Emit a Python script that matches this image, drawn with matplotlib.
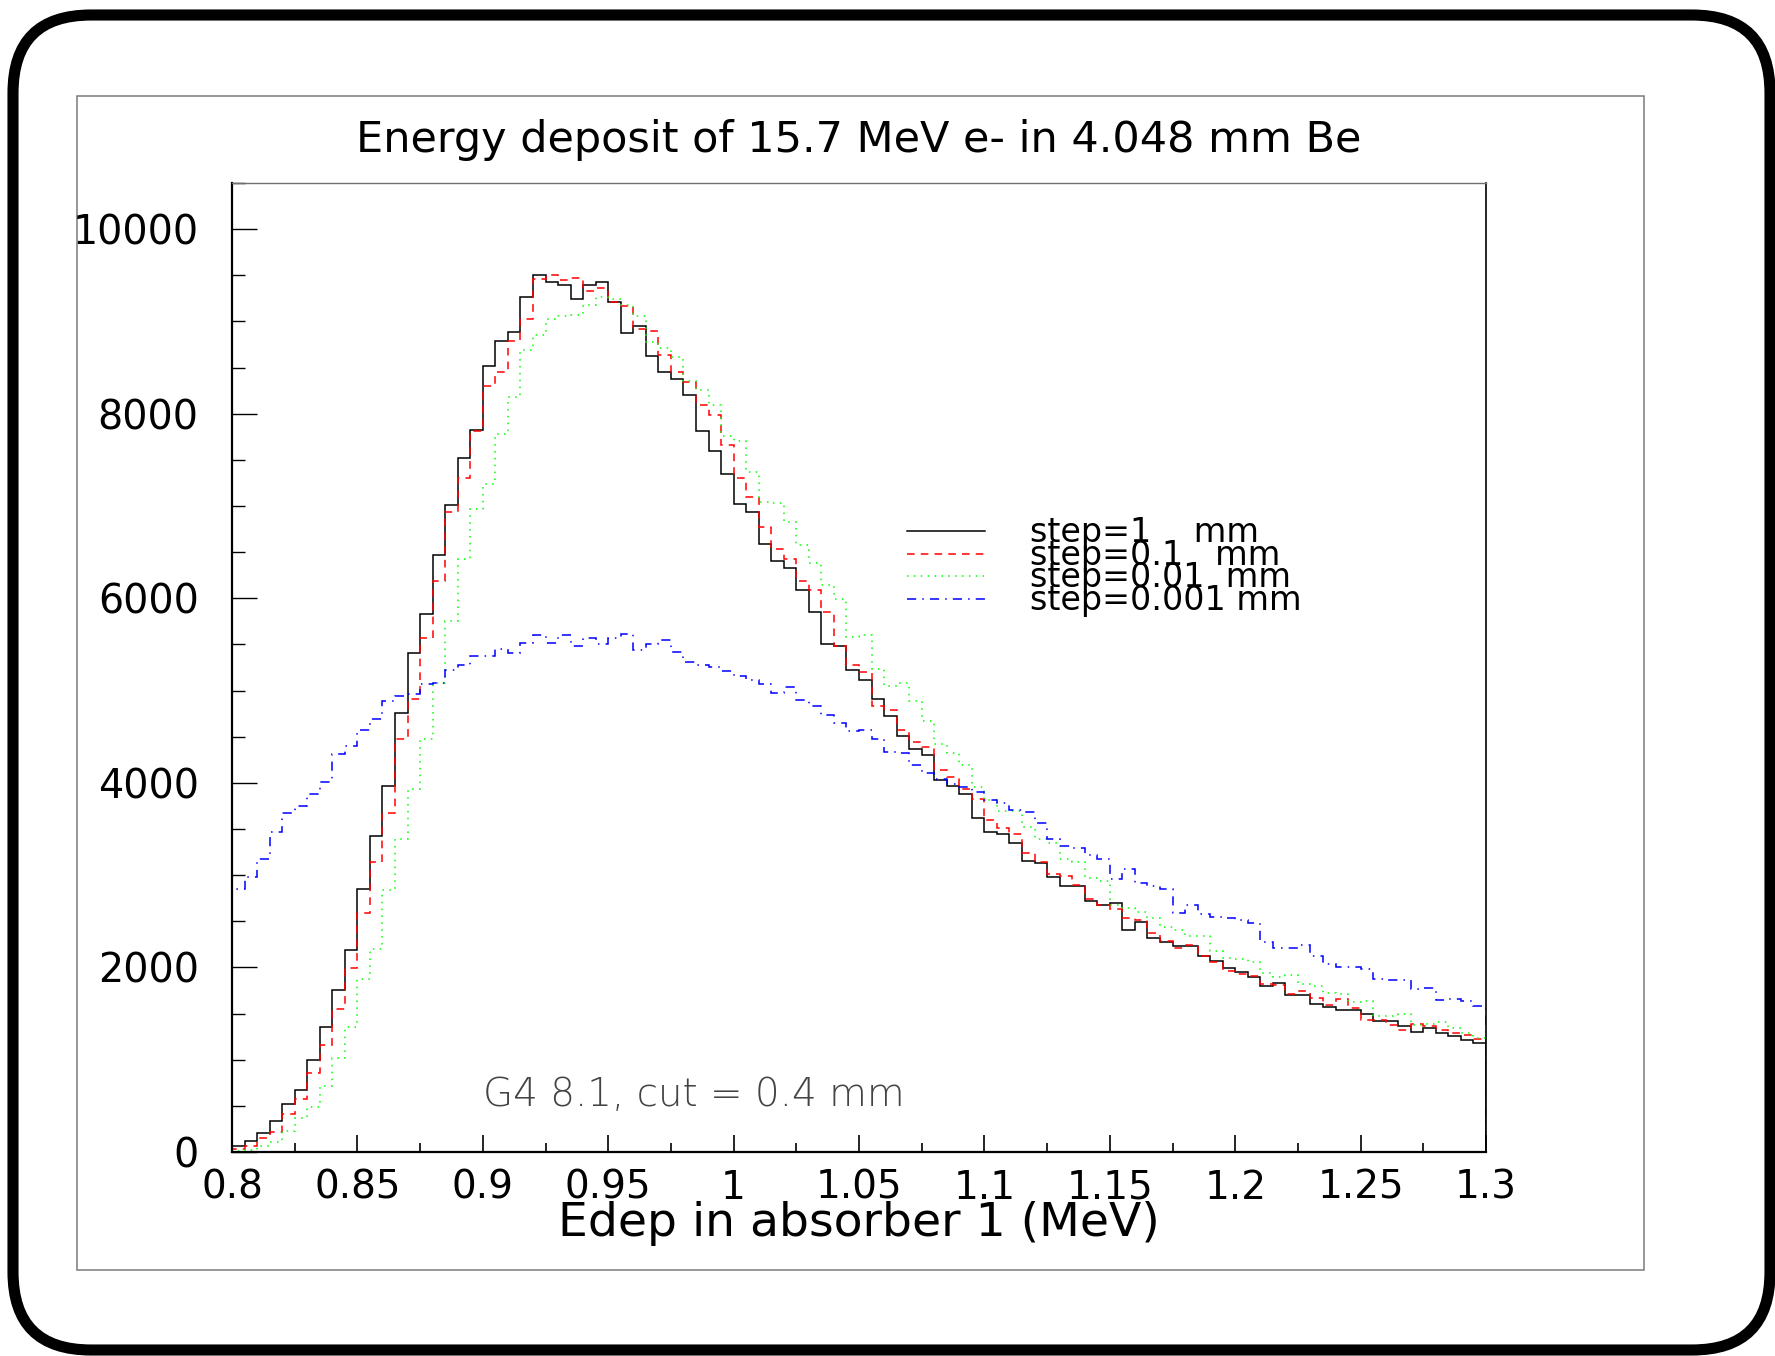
"""Energy deposit of 15.7 MeV e- in 4.048 mm Be, four step-size settings (PAW-style histogram page)."""
import numpy as np
import matplotlib
matplotlib.use("Agg")
import matplotlib.pyplot as plt
from matplotlib.lines import Line2D
from matplotlib.patches import FancyBboxPatch, Rectangle
from matplotlib.ticker import MultipleLocator

# ---------------------------------------------------------------------------
# Data: 100 bins from 0.8 to 1.3 MeV (counts per bin)
# ---------------------------------------------------------------------------
X_MIN, X_MAX, N_BINS = 0.8, 1.3, 100

STEP_1MM = [
    60, 120, 204, 332, 523, 670, 996, 1359, 1755, 2189,
    2853, 3427, 3963, 4754, 5405, 5826, 6471, 7013, 7524, 7824,
    8519, 8788, 8883, 9266, 9502, 9426, 9394, 9247, 9394, 9426,
    9215, 8870, 8947, 8628, 8449, 8373, 8200, 7817, 7594, 7352,
    7020, 6937, 6586, 6407, 6331, 6094, 5846, 5507, 5482, 5227,
    5112, 4907, 4722, 4512, 4371, 4301, 4033, 3969, 3874, 3618,
    3472, 3446, 3350, 3153, 3127, 2980, 2885, 2885, 2725, 2674,
    2693, 2406, 2489, 2323, 2278, 2234, 2234, 2119, 2074, 1991,
    1946, 1895, 1797, 1834, 1703, 1703, 1606, 1573, 1544, 1544,
    1490, 1418, 1418, 1363, 1302, 1342, 1291, 1255, 1219, 1183,
]
STEP_01MM = [
    30, 60, 150, 220, 410, 575, 855, 1155, 1545, 1990,
    2585, 3140, 3670, 4480, 4914, 5565, 6190, 6937, 7307, 7817,
    8302, 8449, 8788, 9024, 9458, 9508, 9451, 9470, 9330, 9362,
    9215, 9170, 8915, 8896, 8641, 8449, 8341, 8098, 7990, 7658,
    7300, 7100, 6777, 6535, 6426, 6190, 6094, 5852, 5482, 5278,
    5201, 4831, 4786, 4576, 4448, 4384, 4142, 4065, 3938, 3829,
    3599, 3510, 3446, 3235, 3140, 3012, 2994, 2898, 2738, 2674,
    2629, 2533, 2514, 2374, 2291, 2214, 2246, 2119, 2055, 1959,
    1927, 1908, 1816, 1805, 1707, 1750, 1664, 1588, 1660, 1562,
    1425, 1425, 1371, 1327, 1389, 1363, 1327, 1291, 1273, 1226,
]
STEP_001MM = [
    10, 25, 64, 108, 223, 364, 491, 715, 1021, 1353,
    1876, 2195, 2840, 3395, 3937, 4480, 5086, 5750, 6426, 6969,
    7237, 7779, 8181, 8692, 8851, 9030, 9056, 9075, 9183, 9266,
    9247, 9183, 9056, 8775, 8711, 8615, 8354, 8258, 8098, 7754,
    7703, 7364, 7045, 7032, 6828, 6573, 6382, 6139, 5992, 5577,
    5597, 5233, 5054, 5086, 4882, 4665, 4416, 4320, 4193, 3950,
    3810, 3695, 3695, 3523, 3395, 3344, 3172, 3140, 2967, 2935,
    2680, 2648, 2597, 2533, 2438, 2406, 2342, 2342, 2183, 2106,
    2087, 2055, 1935, 1899, 1913, 1816, 1797, 1725, 1707, 1624,
    1635, 1479, 1479, 1490, 1371, 1382, 1407, 1345, 1291, 1237,
]
STEP_0001MM = [
    2853, 2980, 3172, 3472, 3670, 3746, 3874, 4014, 4308, 4397,
    4576, 4690, 4882, 4946, 4958, 5067, 5086, 5227, 5278, 5373,
    5373, 5450, 5405, 5520, 5597, 5520, 5597, 5488, 5565, 5501,
    5565, 5616, 5437, 5501, 5546, 5418, 5310, 5278, 5258, 5214,
    5163, 5118, 5073, 4978, 5035, 4895, 4831, 4735, 4652, 4563,
    4576, 4480, 4333, 4320, 4193, 4110, 4046, 3988, 3950, 3906,
    3810, 3778, 3702, 3682, 3568, 3395, 3312, 3299, 3216, 3172,
    2961, 3063, 2916, 2885, 2853, 2585, 2674, 2578, 2546, 2533,
    2514, 2482, 2278, 2213, 2213, 2242, 2123, 2033, 2004, 2004,
    1978, 1870, 1859, 1859, 1768, 1779, 1642, 1660, 1635, 1580,
]

SERIES = [STEP_1MM, STEP_01MM, STEP_001MM, STEP_0001MM]
LABELS = ["step=1    mm", "step=0.1   mm", "step=0.01  mm", "step=0.001 mm"]
COLORS = ["black", "#ff0000", "#00ff00", "#0000ff"]
STYLES = ["-", (0, (5, 4)), (0, (1, 3.5)), (0, (6, 4, 1, 4))]

TITLE = "Energy deposit of 15.7 MeV e- in 4.048 mm Be"
XLABEL = "Edep in absorber 1 (MeV)"
NOTE = "G4 8.1, cut = 0.4 mm"

W, H = 1775, 1356


def main() -> None:
    plt.rcParams["font.family"] = ["DejaVu Sans"]
    fig = plt.figure(figsize=(W / 100, H / 100), dpi=100)

    # page decoration: rounded outer frame + thin inner box, in pixel coords
    bg = fig.add_axes([0, 0, 1, 1])
    bg.set_xlim(0, W)
    bg.set_ylim(H, 0)
    bg.axis("off")
    bg.add_patch(FancyBboxPatch((13, 15), 1757, 1335,
                                boxstyle="round,pad=0,rounding_size=78",
                                lw=8.0, ec="black", fc="none"))
    bg.add_patch(Rectangle((76.5, 95.5), 1567, 1174.5, lw=1.1,
                           ec="#7a7a7a", fc="none"))

    ax = fig.add_axes([232 / W, 1 - 1152 / H, (1486 - 232) / W, (1152 - 183) / H])
    edges = np.linspace(X_MIN, X_MAX, N_BINS + 1)
    for vals, col, ls in zip(SERIES, COLORS, STYLES):
        ax.stairs(vals, edges, baseline=0, color=col, lw=1.1, linestyle=ls)

    ax.set_xlim(X_MIN, X_MAX)
    ax.set_ylim(0, 10500)
    ax.xaxis.set_major_locator(MultipleLocator(0.05))
    ax.xaxis.set_minor_locator(MultipleLocator(0.025))
    ax.yaxis.set_major_locator(MultipleLocator(2000))
    ax.yaxis.set_minor_locator(MultipleLocator(500))
    ax.xaxis.set_major_formatter(lambda v, p: f"{v:g}")
    ax.tick_params(axis="x", which="major", direction="in", length=12, width=1.2,
                   labelsize=28, pad=12)
    ax.tick_params(axis="x", which="minor", direction="in", length=6.5, width=1.2)
    ax.tick_params(axis="y", which="major", direction="in", length=18, width=1.0,
                   labelsize=28.5, pad=24)
    ax.tick_params(axis="y", which="minor", direction="in", length=9.5, width=1.0)
    for side in ("left", "bottom"):
        ax.spines[side].set_linewidth(1.6)
    ax.spines["right"].set_linewidth(1.2)
    ax.spines["top"].set_linewidth(1.0)
    ax.spines["top"].set_color("#707070")

    ax.set_xlabel(XLABEL, fontsize=34, va="baseline")
    ax.xaxis.set_label_coords(0.5, -0.0867)
    fig.text(0.484, 1 - 152 / H, TITLE, fontsize=31, ha="center", va="baseline")

    # legend block, PAW style (sample line + label, rows packed tightly)
    y0, dy = 0.6412, 0.0236
    for i, (lab, col, ls) in enumerate(zip(LABELS, COLORS, STYLES)):
        y = y0 - i * dy
        ax.add_line(Line2D([0.538, 0.6005], [y, y], transform=ax.transAxes,
                           color=col, lw=1.1, linestyle=ls))
        ax.text(0.6364, y - 0.0114, lab, transform=ax.transAxes, fontsize=24,
                ha="left", va="baseline")

    ax.text(0.2002, 0.0475, NOTE, transform=ax.transAxes, fontsize=28,
            fontweight="light", color="#444444", ha="left", va="baseline")

    fig.savefig("out.png", dpi=100)
    plt.close(fig)


if __name__ == "__main__":
    main()
